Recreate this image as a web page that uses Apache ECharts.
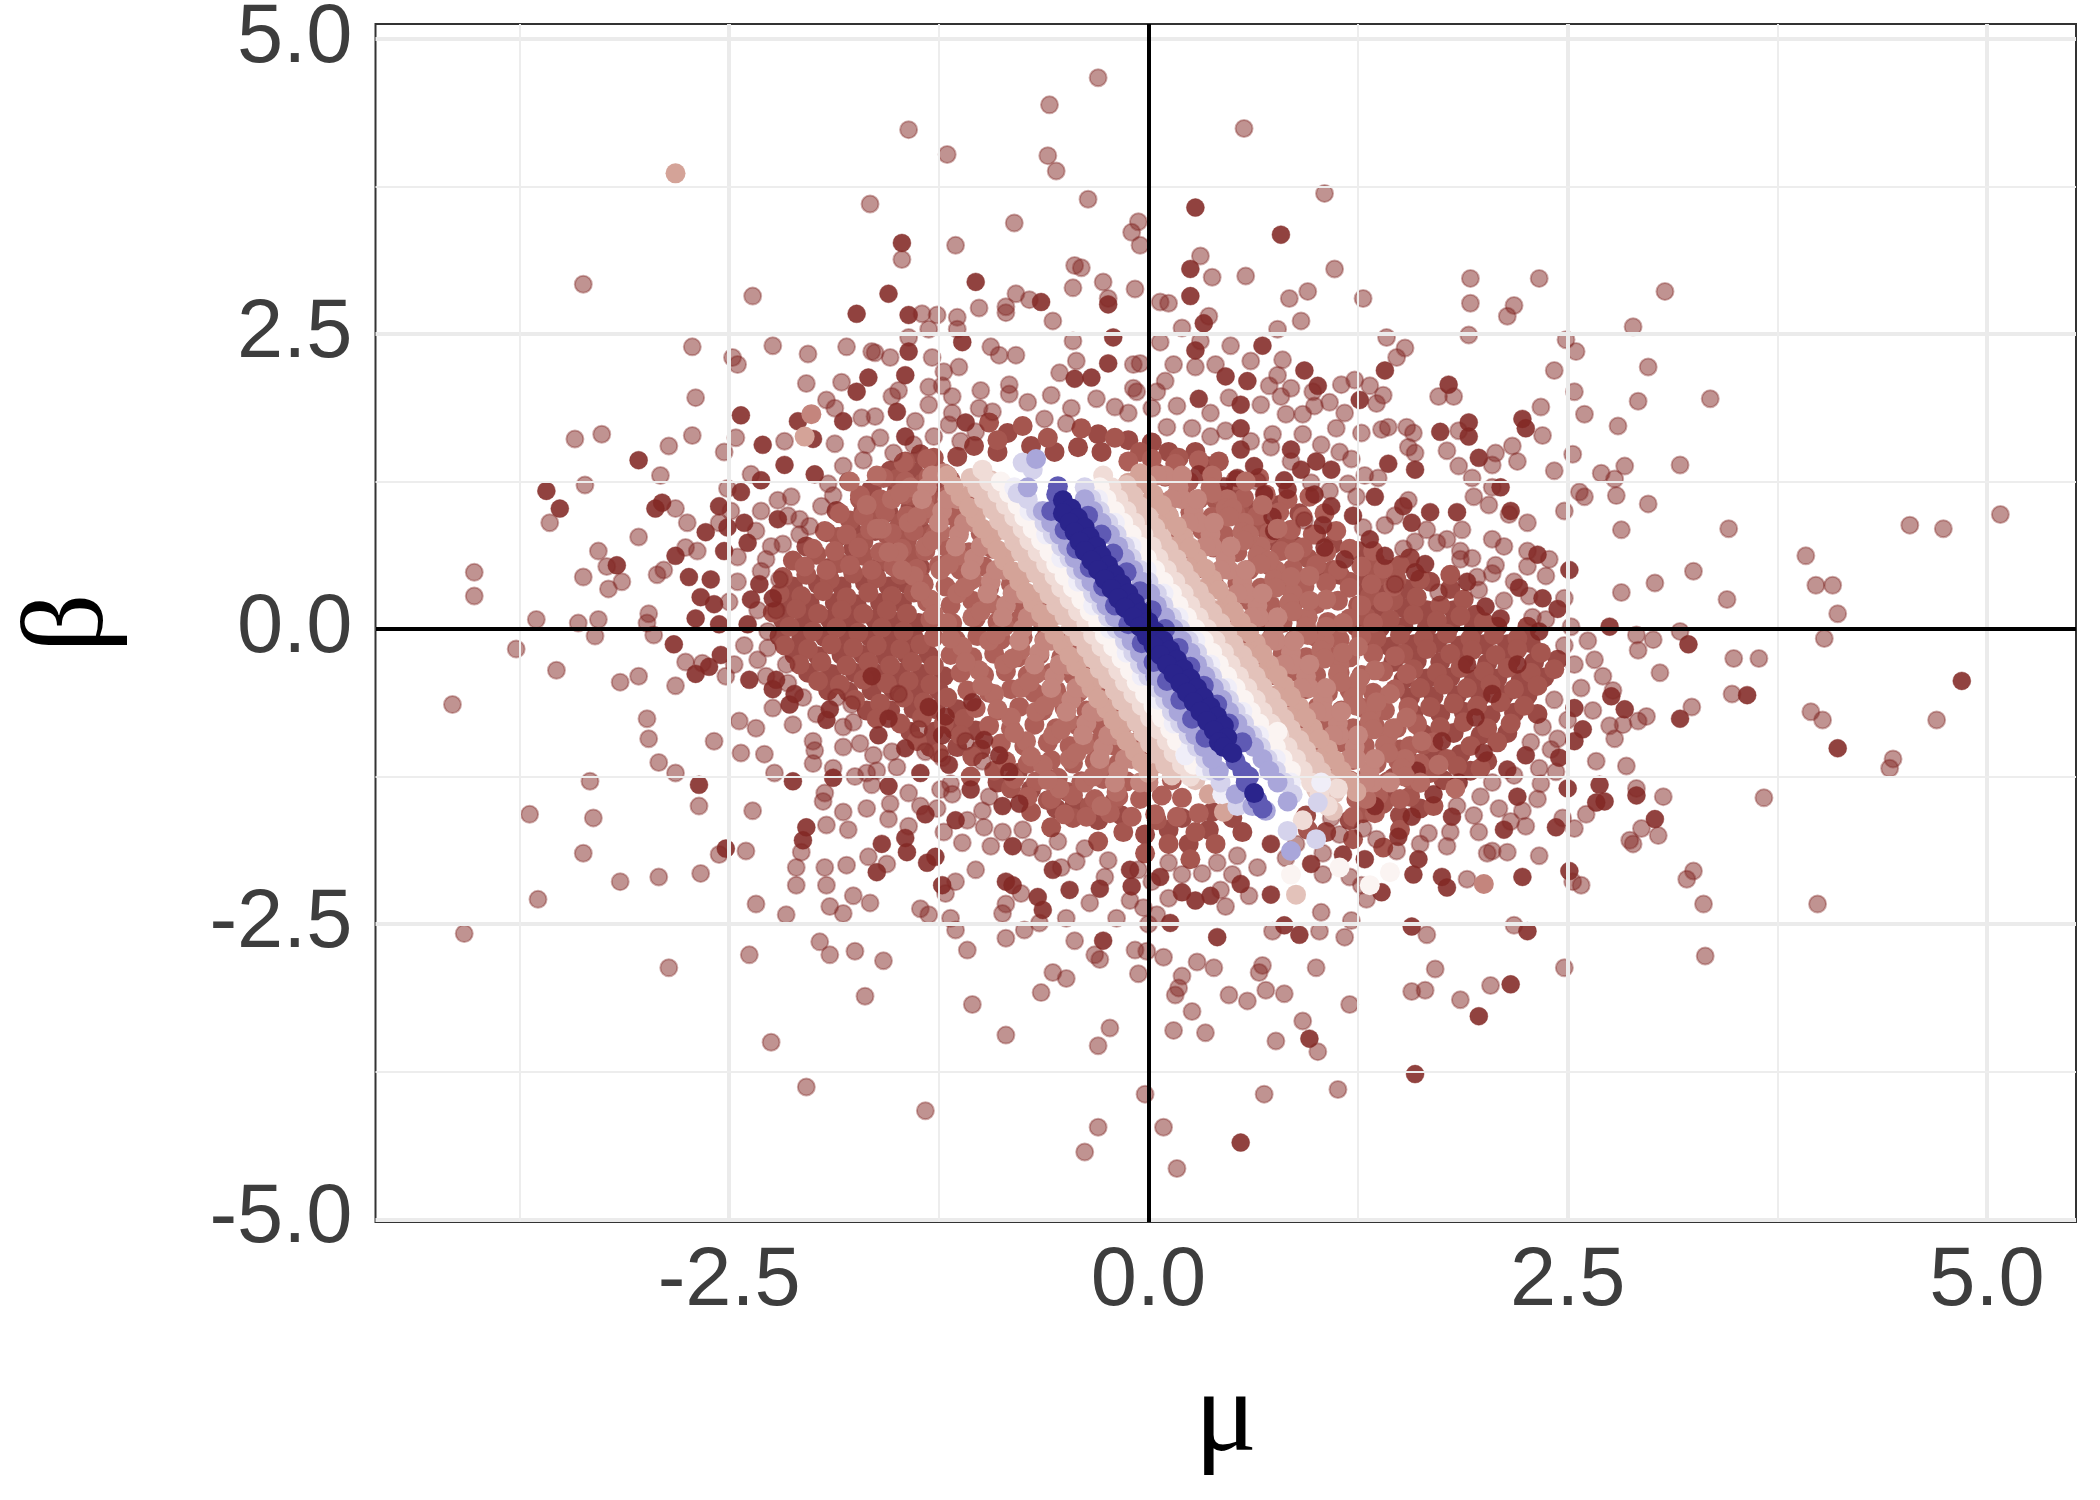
<!DOCTYPE html>
<html>
<head>
<meta charset="utf-8">
<title>mu beta scatter</title>
<script src="https://cdn.jsdelivr.net/npm/echarts@6/dist/echarts.min.js"></script>
<style>
  html, body { margin: 0; background: #fff; }
  #chart { width: 2100px; height: 1500px; }
</style>
</head>
<body>
<div id="chart"></div>
<script>
// tick labels and grid positions
const tickValues = [-5, -2.5, 0, 2.5, 5]
const xTickValues = [-2.5, 0, 2.5, 5]
const xMinorGrid = [-3.75, -1.25, 1.25, 3.75]
const yMinorGrid = [-3.75, -1.25, 1.25, 3.75]

// points: [mu, beta]
const faintPts = [[-1.43,4.23],[-1.2,4.02],[-1.66,3.6],[-1.47,3.13],[-1.15,3.25],[-.8,3.44],[-3.37,2.92],[-2.36,2.82],[-1.35,2.67],[-1.26,2.66],[-1.14,2.64],[-1.14,2.54],[-1.01,2.72],[-.85,2.73],[-.85,2.68],[-.79,2.84],[-.71,2.79],[-1.31,2.54],[-1.43,2.47],[-2.72,2.39],[-2.24,2.4],[-2.48,2.3],[-2.45,2.24],[-2.03,2.33],[-1.8,2.39],[-1.65,2.35],[-1.63,2.34],[-1.54,2.3],[-1.29,2.3],[-.94,2.39],[-.89,2.32],[-.79,2.32],[-2.04,2.08],[-1.83,2.09],[-1.13,2.22],[-1.22,2.18],[-1.49,2.02],[-1.31,2.05],[-1.23,2.06],[-1.53,1.97],[-1.17,1.97],[-1,2.02],[-.83,2.07],[-.83,1.99],[-2.7,1.96],[-1.92,1.94],[-1.31,1.9],[-1.71,1.79],[-1.63,1.8],[-1.87,1.87],[-1.39,1.76],[-1.01,1.87],[-1.17,1.83],[-1.19,1.73],[-3.42,1.61],[-3.26,1.65],[-2.72,1.64],[-2.86,1.55],[-2.46,1.62],[-2.53,1.5],[-2.17,1.59],[-1.87,1.57],[-1.68,1.56],[-2.91,1.3],[-3.36,1.22],[-3.57,.9],[-2.82,1.02],[-2.75,.9],[-3.04,.78],[-3.28,.66],[-3.23,.53],[-3.37,.44],[-3.14,.4],[-3.22,.34],[-4.02,.48],[-4.02,.28],[-3.65,.08],[-3.4,.05],[-3.28,.08],[-2.98,.13],[-2.99,.05],[-2.93,.46],[-2.89,.5],[-2.76,.69],[-2.69,.66],[-2.5,.23],[-2.33,.16],[-2.22,.16],[-2.45,.4],[-2.2,.42],[-2.25,.7],[-2.45,.61],[-2.28,.59],[-2.49,1],[-2.56,.9],[-2.51,1.19],[-2.37,1.31],[-2.08,.93],[-2.08,.8],[-2.21,1.09],[-2.13,1.12],[-1.95,1.04],[-1.91,1.23],
[-4.15,-.64],[-3.77,-.17],[-3.53,-.35],[-3.3,-.06],[-3.15,-.45],[-3.04,-.4],[-2.82,-.48],[-2.95,-.05],[-2.76,-.28],[-2.66,-.29],[-2.52,-.4],[-2.47,-.3],[-2.33,-.26],[-2.27,-.02],[-2.99,-.76],[-2.98,-.93],[-2.44,-.78],[-2.34,-.84],[-2.59,-.95],[-2.43,-1.05],[-2.29,-1.06],[-2.92,-1.13],[-2.82,-1.22],[-3.33,-1.29],[-2.68,-1.5],[-2.36,-1.54],[-2.23,-1.22],[-3.69,-1.57],[-3.31,-1.6],[-3.37,-1.9],[-2.56,-1.91],[-2.4,-1.88],[-2.92,-2.1],[-3.15,-2.14],[-2.67,-2.07],[-3.64,-2.29],[-4.08,-2.58],[-2.86,-2.87],[-2.38,-2.76],[-2.34,-2.33],[-2.16,-2.42],[-2.25,-3.5],[-2.04,-3.88],[-1.33,-4.08],[-1.69,-3.11],[-1.05,-3.18],[-.85,-3.44],[-.64,-3.08],[-1.96,-2.65],[-1.9,-2.76],[-1.75,-2.73],[-1.58,-2.81],[-1.08,-2.72],[-.85,-2.62],[-.74,-2.55],[-1.15,-2.55],[-1.18,-2.45],[-1.36,-2.37],[-1.31,-2.42],[-1.9,-2.35],[-1.82,-2.41],[-1.76,-2.26],[-1.66,-2.32],[-2.1,-2.17],[-2.1,-2.02],[-1.92,-2.17],[-1.93,-2.02],[-1.8,-2],[-1.67,-1.93],[-1.56,-1.99],[-1.21,-2.24],[-1.15,-2.14],[-1.03,-2.04],[-1.11,-1.81],[-2.07,-1.89],[-1.92,-1.66],[-1.79,-1.7],[-1.55,-1.61],[-1.43,-1.67],[-1.94,-1.46],[-1.93,-1.39],[-1.75,-1.25],[-1.68,-1.22],[-1.65,-1.32],[-1.43,-1.39],[-1.18,-1.31],[-1.17,-1.4],[-.99,-1.54],[-.95,-1.42],[-.87,-1.72],[-.75,-1.7],[-.71,-1.85],[-.63,-1.9],[-.76,-2.24],[-.85,-2.33],[-.87,-2.41],[-.65,-2.49],[-2.12,-.81],[-1.82,-.83],[-2,-.95],[-1.99,-1.03],[-2,-1.14],[-1.82,-1],[-1.72,-.97],[-1.64,-1.07],[-1.53,-1.04],[-1.33,-1.04],[-1.23,-1.09],[-1.77,-.64],[-1.37,-.85],[-.99,-1.12],[-1.09,-.95],[-1.49,-.55],
[-.3,4.67],[-.59,4.44],[.57,4.24],[-.6,4.01],[-.55,3.88],[1.05,3.69],[-.36,3.64],[-.06,3.45],[-.1,3.36],[-.05,3.25],[.31,3.16],[.38,2.98],[.58,2.99],[1.11,3.05],[-.44,3.08],[-.4,3.06],[-.27,2.94],[-.45,2.89],[-.08,2.88],[-.24,2.8],[.07,2.77],[.12,2.76],[.84,2.8],[.95,2.86],[1.28,2.8],[1.92,2.97],[2.33,2.97],[3.08,2.86],[1.92,2.76],[2.18,2.74],[2.14,2.65],[.91,2.61],[1.91,2.49],[2.89,2.56],[2.49,2.45],[2.55,2.35],[2.98,2.22],[2.42,2.19],[2.54,2.01],[2.92,1.93],[3.35,1.95],[2.6,1.82],[2.34,1.88],[2.8,1.72],[2.35,1.64],[1.85,1.68],[1.73,1.97],[1.82,1.97],[1.48,2.3],[1.53,2.38],[1.42,2.47],[.77,2.54],[.2,2.55],[.36,2.65],[.31,2.44],[.07,2.43],[.49,2.4],[-.45,2.44],[-.57,2.61],[-.43,2.27],[-.09,2.24],[-.05,2.25],[-.53,2.17],[.15,2.24],[.28,2.22],[.4,2.24],[.61,2.27],[.8,2.28],[.77,2.15],[.72,2.06],[.85,2.04],[.1,2.1],[-.09,2.04],[-.07,2.01],[.05,2.01],[.48,1.96],[.67,1.9],[.79,1.97],[.98,2.01],[1.15,2.07],[1.23,2.11],[1.32,2.06],[1.4,1.98],[1.36,1.91],[1.08,1.92],[.99,1.89],[1.17,1.83],[.82,1.82],[.92,1.82],[.37,1.83],[.74,1.65],[.92,1.65],[1.12,1.7],[1.27,1.66],[1.39,1.69],[1.43,1.71],[1.54,1.71],[1.58,1.66],[.73,1.54],[1.03,1.56],[1.55,1.54],[1.59,1.49],[1.78,1.51],[2.07,1.49],[2.17,1.55],[2.2,1.42],[2.53,1.48],[2.84,1.38],[3.17,1.39],[2.42,1.34],[2.7,1.32],[2.78,1.27],[2.05,1.39],[1.85,1.38],[1.93,1.28],[2.05,1.2],[1.94,1.12],[2.03,1.05],[2.57,1.16],[2.6,1.12],[2.79,1.13],[2.98,1.06],[2.48,1],[2.15,.97],[2.26,.9],[2.82,.84],[3.46,.85],[4.54,.88],[4.74,.85],[5.08,.97],[3.92,.62],[3.98,.37],[4.08,.37],[4.11,.13],[3.25,.49],[3.02,.39],[2.82,.31],[3.45,.25],[2.39,.59],[2.37,.45],[2.26,.66],[2.26,.53],[2.05,.76],[2.12,.7],[2.07,.54],[2.05,.47],[1.87,.84],[1.86,.66],[1.86,.59],[1.72,.73],[1.59,.74],[1.41,.88],[1.55,1.09],[1.29,1.3],[1.37,1.28],[1.19,1.23],[1.21,1.44],[.65,1.25],[.37,1.63],[.11,1.71],[.26,1.7],[.93,.92],[1.47,.38],[1.73,.31],[1.97,.33],[2.48,.26],[2.12,.24],[2.27,.28],[2.29,.1],
[4.7,-.77],[4.44,-1.1],[4.42,-1.18],[3.95,-.7],[4.02,-.77],[4.03,-.08],[3.48,-.55],[3.49,-.25],[3.64,-.25],[3.67,-1.43],[3.99,-2.33],[3.32,-2.77],[3.31,-2.33],[3.25,-2.05],[3.21,-2.12],[3.04,-1.75],[2.94,-1.69],[2.89,-1.82],[2.87,-1.79],[3.07,-1.42],[2.91,-1.35],[2.85,-1.16],[3.24,-.66],[3.05,-.37],[3.17,-.02],[3.01,-.09],[2.92,-.18],[2.91,-.05],[2.97,-.74],[2.92,-.78],[2.83,-.81],[2.77,-.52],[2.75,-.82],[2.78,-.93],[2.65,-.69],[2.44,-.93],[2.67,-1.12],[2.33,-1.18],[2.43,-1.21],[2.61,-1.57],[2.47,-1.6],[2.54,-1.69],[2.32,-1.44],[2.34,-1.31],[2.23,-1.54],[2.25,-1.67],[2.16,-1.63],[2.33,-1.92],[2.53,-2.14],[2.58,-2.17],[2.14,-1.89],[2.05,-1.88],[2.02,-1.9],[1.9,-2.12],[1.78,-1.84],[1.67,-1.73],[1.28,-1.69],[1.3,-2.29],[1.27,-2.17],[1.66,-2.59],[2.18,-2.51],[2.48,-2.87],[2.04,-3.02],[1.86,-3.14],[1.71,-2.88],[1.57,-3.07],[1.65,-3.06],[1.13,-3.9],[1.2,-3.18],[.92,-3.32],[1.01,-3.58],[.76,-3.49],[.81,-3.09],[.7,-3.06],[.59,-3.15],[.48,-3.1],[1,-2.87],[1.03,-2.4],[1.02,-2.56],[1.17,-2.61],[1.21,-2.47],[.74,-2.56],[.68,-2.85],[.66,-2.91],[.39,-2.87],[.29,-2.82],[.2,-2.94],[.18,-3.04],[.16,-3.1],[.09,-2.78],[-.01,-2.73],[-.08,-2.72],[-.06,-2.92],[-.29,-2.8],[-.32,-2.76],[-.44,-2.64],[-.49,-2.96],[-.57,-2.91],[.26,-3.24],[.15,-3.4],[.34,-3.42],[-.23,-3.38],[-.3,-3.53],[-.02,-3.94],[.69,-3.94],[-.3,-4.22],[.09,-4.22],[-.38,-4.43],[.17,-4.57],[0,-2.5],[-.19,-2.45],[-.03,-2.36],[.05,-2.42],[-.49,-2.45],[-.35,-2.32],[-.11,-2.3],[-.43,-1.97],[.46,-2.35],[.6,-2.26],[.32,-2.07],[.41,-1.98],[.43,-2.21],[.65,-2.02],[.53,-1.92],
[-2.31,1],[-2.34,.83],[-2.18,.72],[-2.31,.49],[-2.15,.96],[-2.02,.87],[-1.88,1.13],[-1.82,1.38],[-1.7,1.43],[-1.6,1.62],[-1.52,1.49],[-1.4,1.56],[-1.28,1.63],[-1.12,1.59],[-1.03,1.67],[-.93,1.84],[-.72,1.92],[-.58,1.98],[-.46,1.87],[-.31,1.95],[-.2,1.88],[-.62,1.78],[-.49,1.74],[-.12,1.83],[.02,1.87],[.17,1.89],[.46,1.68],[.61,1.59],[.85,1.42],[1.14,1.5],[.97,1.24],[1.24,1.12],[1.08,1.17],[1.47,.96],[1.66,.84],[1.78,.76],[1.52,.68],[1.28,.86],[1.93,.6],[1.96,.44],[2.18,.4],[2.37,.08],[2.52,.02],[2.62,-.1],[2.48,-.14],[2.66,-.26],[2.54,-.3],[2.71,-.4],[2.58,-.5],[2.42,-.6],[2.5,-.77],[2.35,-.83],[2.28,-.96],[2.4,-1.02],[2.18,-1.24],[2.05,-1.3],[1.98,-1.42],[2.09,-1.52],[1.94,-1.58],[1.84,-1.5],[1.97,-1.72],[1.8,-1.72],[1.62,-1.82],[1.48,-1.88],[1.36,-1.78],[1.14,-1.74],[1.09,-1.6],[-2.27,-.16],[-2.41,-.14],[-2.16,-.3],[-2.28,-.4],[-2.15,-.46],[-2.06,-.58],[-1.98,-.72],[-1.86,-.58],[-2.24,-.67],[-1.76,-.79],[-1.88,-1.18],[-1.62,-1.2],[-1.5,-1.17],[-1.54,-1.48],[-1.68,-1.52],[-1.82,-1.55],[-1.36,-1.5],[-1.24,-1.36],[-1.26,-1.52],[-1.08,-1.62],[-1.22,-1.72],[-.98,-1.68],[-.94,-1.84],[-.54,-1.8],[-.38,-1.86],[-.52,-2.02],[-.24,-1.96],[-.26,-2.1],[-.06,-2.04],[.12,-1.98],[.02,-2.14],[.2,-2.08],[.12,-2.28],[.5,-2.08],[.82,-1.94],[.88,-1.82],[1.04,-1.9],[1.04,-2.08],[1.2,-2.1]]

const darkPts = [[-1.47,3.27],[-1.03,2.94],[-1.55,2.84],[-1.74,2.67],[-1.43,2.66],[-.64,2.77],[-1.11,2.43],[-1.43,2.35],[-1.67,2.13],[-1.74,2.01],[-1.45,2.15],[-2.43,1.81],[-1.5,1.84],[-1.09,1.75],[-1.82,1.76],[-2.3,1.56],[-2.09,1.76],[-2,1.61],[-1.45,1.63],[-3.04,1.43],[-3.59,1.17],[-3.51,1.02],[-2.9,1.07],[-2.94,1.02],[-3.17,.54],[-2.82,.62],[-2.64,.82],[-2.74,.44],[-2.61,.42],[-2.67,.27],[-2.59,.21],[-2.37,.25],[-2.24,.26],[-2.7,.09],[-2.56,.04],[-2.39,.04],[-2.32,.38],[-2.53,.66],[-2.39,.73],[-2.56,1.04],[-2.51,.86],[-2.41,.9],[-2.43,1.16],[-2.31,1.26],[-2.17,1.39],[-2.21,.93],[-1.99,1.31],[-1.79,1.25],
[-2.83,-.13],[-2.7,-.38],[-2.62,-.32],[-2.55,-.22],[-2.38,-.43],[-2.22,-.43],[-2.24,-.51],[-2.68,-1.32],[-2.12,-1.29],[-2.52,-1.86],[-1.62,-2.06],[-1.44,-1.89],[-1.45,-1.77],[-1.59,-1.82],[-1.32,-1.98],[-1.27,-1.93],[-1.23,-2.17],[-2.04,-1.68],[-2.06,-1.79],[-1.33,-1.57],[-1.15,-1.62],[-1.88,-1.26],[-1.55,-1.33],[-1.36,-1.22],[-1.19,-1.15],[-1.06,-1.36],[-.87,-1.5],[-.77,-1.48],[-.81,-1.84],[-.85,-2.14],[-.81,-2.17],[-.66,-2.27],[-.63,-2.38],[-2.14,-.64],[-2.11,-.55],[-1.9,-.68],[-1.92,-.77],[-1.61,-.9],[-1.45,-1.01],[-1.55,-.76],[-1.31,-.66],[-1.21,-.74],[-1.23,-.9],[-.98,-.94],[-.89,-1.07],[-.83,-1.21],[-1.05,-.62],[-1.65,-.4],
[.28,3.57],[.79,3.34],[.25,3.05],[-.24,2.75],[.25,2.82],[.33,2.59],[.28,2.36],[.68,2.4],[-.21,2.47],[-.24,2.25],[-.44,2.12],[-.34,2.13],[.46,2.14],[.59,2.1],[.93,2.19],[1.01,2.06],[.3,1.95],[.55,1.9],[1.26,1.94],[.55,1.7],[2.23,1.78],[2.25,1.7],[1.91,1.75],[1.91,1.63],[1.74,1.67],[1.79,2.07],[1.41,2.19],[.85,1.52],[1.97,1.45],[2.1,1.2],[2.16,1],[2.51,.5],[2.32,.63],[1.84,.99],[1.68,.99],[1.52,1.04],[1.57,.9],[1.35,1.12],[1.43,1.4],[1.59,1.35],[1.09,1.35],[1,1.42],[.91,1.35],[.81,1.26],[.63,1.38],[.53,1.28],[.3,1.31],[.55,1.52],[.99,1.14],[.83,1.18],[.69,1.14],[.45,1.21],[1.09,1.04],[1.22,.96],[.74,.95],[1.04,.88],[.75,.83],[1.32,.76],[1.05,.69],[1.17,.59],[1.41,.62],[1.65,.55],[1.59,.48],[1.9,.4],[2.21,.35],[2.35,.26],[2.44,.17],[2.01,.19],[2.1,.09],[2.75,.02],[2.33,-.02],
[4.85,-.44],[4.11,-1.01],[3.57,-.56],[3.02,-1.61],[2.91,-1.41],[3.17,-.76],[3.22,-.13],[2.84,-.68],[2.76,-.57],[2.54,-.67],[2.59,-.85],[2.54,-.95],[2.45,-1.09],[2.69,-1.32],[2.5,-1.35],[2.72,-1.46],[2.67,-1.47],[2.43,-1.68],[2.2,-1.42],[2.12,-1.7],[2.14,-1.19],[2.25,-1.07],[2.51,-2.05],[2.23,-2.1],[1.75,-2.1],[1.78,-2.19],[1.61,-1.95],[1.58,-2.08],[1.49,-1.76],[1.81,-1.59],[1.57,-1.59],[1.29,-1.95],[1.16,-1.91],[1.39,-2.23],[.97,-1.99],[1.57,-2.52],[2.26,-2.56],[2.16,-3.01],[1.97,-3.28],[1.59,-3.77],[.96,-3.47],[.81,-2.51],[.9,-2.59],[.41,-2.61],[-.27,-2.64],[.55,-4.35],[.13,-2.49],[-.47,-2.21],[-.29,-2.2],[-.1,-2.18],[-.57,-2.04],[.07,-2.1],[-.11,-2.04],[.2,-2.23],[.28,-2.3],[.37,-2.26],[.55,-2.16],[.73,-2.25],[.73,-1.82],[1.95,-.75],[1.75,-.95],[1.6,-1.2],[2,-1.05],[1.85,-1.3],[1.35,-1.5],[1.7,-1.4],[2.05,-.55],[2.2,-.3],[1.9,-.3]]

// under layers of the dense cloud
const backPts = [[-2.04,.7],[-1.9,.52],[-1.76,.68],[-1.63,.51],[-1.5,.7],[-1.36,.52],[-2.12,.36],[-1.97,.38],[-1.83,.36],[-1.69,.39],[-1.55,.36],[-1.44,.38],[-2.16,.22],[-2.02,.22],[-1.87,.22],[-1.74,.21],[-1.6,.22],[-1.47,.22],[-2.18,.08],[-2.05,.07],[-1.9,.08],[-1.77,.06],[-1.63,.08],[-1.5,.06],[-1.37,.05],[-2.2,-.06],[-2.07,-.08],[-1.93,-.07],[-1.79,-.09],[-1.66,-.07],[-1.53,-.09],[-1.4,-.07],[-2.11,-.22],[-1.97,-.23],[-1.83,-.22],[-1.7,-.22],[-1.57,-.23],[-1.44,-.22],[-1.31,-.22],[-2.03,-.37],[-1.89,-.38],[-1.75,-.37],[-1.61,-.38],[-1.48,-.37],[-1.35,-.38],[-1.22,-.4],[-1.91,-.52],[-1.79,-.53],[-1.65,-.52],[-1.52,-.52],[-1.38,-.53],[-1.25,-.52],[-1.68,-.69],[-1.54,-.69],[-1.4,-.68],[-1.27,-.68],[-1.14,-.68],[-1.42,-.87],[-1.28,-.87],[-1.16,-.85],[-1.03,-.86],[-1.3,-1],[-1.14,-1],[-1,-1.02],[-.9,-1.3],[-.78,-1.22],[-.7,-1.36],[-.62,-1.25],[-.55,-1.52],[-.44,-1.48],[-.3,-1.62],[-.16,-1.58],[-.02,-1.74],[.12,-1.7],[.24,-1.82],[.36,-1.7],[.2,-1.6],
[-1.92,.82],[-1.77,.84],[-1.63,.83],[-1.5,.84],[-1.36,.84],[-1.86,1],[-1.7,1],[-1.55,.99],[-1.42,1.02],[-1.65,1.19],[-1.5,1.17],[-1.36,1.18],[-1.24,1.2],[-1.54,1.34],[-1.4,1.33],[-1.26,1.35],[-1.36,1.48],[-1.14,1.46],[-1.04,1.55],[-.9,1.5],[-.84,1.66],[-.7,1.55],[-.56,1.5],[-.42,1.54],[-.3,1.65],[-.28,1.5],[-.12,1.6],[.02,1.58],[.12,1.5],[.28,1.5],[.35,1.38],[.5,1.14],[.62,1],[.78,1.05],[.9,.98],[1,.8],[.88,.7],[.72,.75],[1.1,.72],[1.25,.66],[1.14,.46],[1.02,.5],[1.3,.48],[1.44,.5],[1.56,.6],[1.42,.34],[1.28,.36],[1.54,.34],[1.68,.4],[1.8,.34],[1.36,.18],[1.52,.18],[1.66,.16],[1.82,.16],[1.95,.12],[1.24,.02],[1.38,.01],[1.52,.02],[1.66,.01],[1.8,.03],[1.94,.01],[2.08,.02],[2.26,.02],[1.3,-.14],[1.44,-.15],[1.58,-.13],[1.72,-.12],[1.86,-.14],[2,-.13],[2.14,-.13],[2.28,-.12],[1.46,-.28],[1.6,-.27],[1.74,-.28],[1.88,-.26],[2.02,-.29],[2.16,-.26],[2.3,-.28],[2.44,-.26],[1.52,-.43],[1.66,-.42],[1.8,-.41],[1.94,-.43],[2.08,-.42],[2.22,-.43],[2.36,-.41],[1.56,-.58],[1.7,-.57],[1.84,-.56],[1.98,-.57],[2.12,-.56],[2.26,-.56],[1.58,-.72],[1.74,-.72],[1.88,-.7],[2.04,-.73],[2.18,-.71],[2.32,-.72],[1.64,-.89],[1.82,-.88],[1.98,-.9],[2.14,-.88],[1.54,-1.09],[1.7,-1.06],[1.86,-1.06],[2.02,-1.12],[1.46,-1.26],[1.62,-1.3],[1.76,-1.28],[1.92,-1.2],[1.44,-1.42],[1.62,-1.52],[1.5,-1.58],[1.2,-1.62],[1.06,-1.72],[.94,-1.58],[.56,-1.72],[.5,-1.6],[.38,-1.55]]

const brownPts = [[-2.12,.58],[-1.98,.63],[-1.84,.56],[-1.7,.62],[-1.55,.57],[-1.42,.64],[-2.18,.44],[-2.04,.46],[-1.9,.42],[-1.76,.47],[-1.62,.43],[-1.48,.46],[-1.36,.42],[-2.2,.3],[-2.07,.28],[-1.94,.32],[-1.8,.27],[-1.67,.31],[-1.53,.28],[-1.4,.31],[-2.24,.14],[-2.1,.17],[-1.97,.13],[-1.83,.16],[-1.7,.13],[-1.56,.16],[-1.44,.13],[-2.14,.02],[-2,-.02],[-1.86,.01],[-1.73,-.03],[-1.59,.01],[-1.46,-.02],[-2.17,-.14],[-2.03,-.17],[-1.89,-.13],[-1.76,-.16],[-1.62,-.14],[-1.48,-.17],[-1.36,-.13],[-2.08,-.3],[-1.95,-.28],[-1.8,-.31],[-1.67,-.28],[-1.54,-.31],[-1.41,-.28],[-1.28,-.31],[-1.97,-.44],[-1.84,-.47],[-1.7,-.43],[-1.56,-.46],[-1.43,-.44],[-1.3,-.47],[-1.75,-.6],[-1.6,-.63],[-1.46,-.58],[-1.34,-.62],[-1.2,-.58],[-1.62,-.76],[-1.48,-.8],[-1.35,-.75],[-1.22,-.8],[-1.1,-.76],[-1.38,-.95],[-1.12,-.9],[-1.25,-1.05],[-1.05,-1.08],[-.92,-1.2],[-1.06,-1.25],[-1.85,.78],[-1.7,.74],[-1.56,.8],[-1.44,.75],[-1.3,.8],[-1.78,.92],[-1.62,.96],[-1.48,.9],[-1.35,.96],[-1.72,1.1],[-1.56,1.08],[-1.42,1.13],[-1.28,1.08],[-1.5,1.27],[-1.34,1.24],[-1.2,1.3],[-1.45,1.42],[-1.28,1.45],
[1.35,.58],[1.5,.54],[1.62,.42],[1.48,.42],[1.36,.44],[1.8,.46],[1.74,.2],[1.6,.27],[1.46,.24],[1.32,.28],[1.88,.25],[2,.06],[1.86,.11],[1.72,.07],[1.58,.12],[1.44,.08],[1.3,.1],[2.2,-.08],[2.06,-.05],[1.92,-.08],[1.78,-.04],[1.64,-.08],[1.5,-.05],[1.36,-.08],[2.34,-.2],[2.2,-.17],[2.07,-.22],[1.93,-.18],[1.8,-.21],[1.66,-.17],[1.52,-.21],[2.42,-.34],[2.28,-.37],[2.14,-.33],[2,-.36],[1.86,-.33],[1.72,-.37],[1.58,-.34],[2.32,-.48],[2.18,-.51],[2.04,-.47],[1.9,-.5],[1.76,-.47],[1.62,-.5],[2.24,-.65],[2.1,-.62],[1.96,-.65],[1.82,-.63],[1.68,-.66],[2.16,-.8],[2.02,-.84],[1.88,-.79],[1.74,-.83],[1.6,-.8],[2.08,-.96],[1.92,-.99],[1.78,-1.1],[1.64,-.98],[1.5,-1.02],[1.98,-1.18],[1.84,-1.16],[1.68,-1.22],[1.54,-1.18],[1.42,-1.3],[1.7,-1.5],[1.56,-1.42],[1.4,-1.48],[1.28,-1.56],[1.5,-1.7],[1.4,-1.85],[1.22,-1.78],[.95,-1.7],[.9,-.98],[1.1,.5],[.95,.6],[1.2,.4],[1.25,.2],[.82,.72],[.68,.86],[.55,.98],[.4,1.1],[.2,1.2],[.05,1.32],[.18,1.45],[-.05,1.5],[-.2,1.62],[-.4,1.7],[-.6,1.62],[-.75,1.72],[-.9,1.6],[-.95,1.75],[.42,1.42],[-.82,-1.35],[-.7,-1.55],[-.58,-1.68],[-.45,-1.6],[-.3,-1.8],[-.15,-1.72],[-.02,-1.9],[.12,-1.82],[.25,-1.95],[-.6,-1.45],[-.48,-1.38],[-.35,-1.5],[-.2,-1.45],[.28,-1.72],[.4,-1.82],[.05,-1.62]]

const midPts = [[-1.32,1.44],[-1.46,1.41],[-.12,1.42],[.02,1.44],[.16,1.4],[.3,1.43],[-1.58,1.28],[-1.45,1.25],[-1.31,1.29],[-1.18,1.26],[-.03,1.26],[.1,1.29],[.24,1.25],[.38,1.28],[.52,1.26],[.66,1.28],[-1.72,1.13],[-1.6,1.1],[-1.46,1.14],[-1.33,1.11],[-1.2,1.13],[-1.08,1.1],[.04,1.11],[.17,1.14],[.3,1.1],[.43,1.13],[.57,1.11],[.7,1.14],[.83,1.1],[.96,1.12],[-1.84,.98],[-1.7,.96],[-1.57,.99],[-1.44,.96],[-1.3,.98],[-1.17,.96],[-1.04,.99],[.12,.96],[.25,.99],[.38,.95],[.52,.98],[.65,.96],[.78,.99],[.92,.95],[1.05,.98],[-1.93,.83],[-1.8,.8],[-1.66,.84],[-1.53,.81],[-1.4,.83],[-1.27,.8],[-1.13,.84],[-1,.81],[.19,.81],[.32,.84],[.45,.8],[.58,.83],[.72,.81],[.85,.84],[.98,.8],[1.12,.83],[-2,.68],[-1.87,.66],[-1.73,.69],[-1.6,.65],[-1.47,.68],[-1.33,.66],[-1.2,.69],[-1.07,.65],[-.93,.68],[.26,.66],[.39,.69],[.53,.65],[.66,.68],[.79,.66],[.92,.69],[1.06,.65],[1.2,.68],[1.34,.66],[-2.05,.53],[-1.92,.5],[-1.78,.54],[-1.65,.5],[-1.52,.53],[-1.38,.51],[-1.25,.54],[-1.12,.5],[-.98,.53],[-.86,.5],[.33,.51],[.46,.54],[.6,.5],[.73,.53],[.86,.51],[1,.54],[1.13,.5],[1.27,.53],[1.4,.51],[-1.34,.38],[-1.21,.36],[-1.08,.39],[-.95,.35],[-.82,.38],[.4,.36],[.53,.39],[.67,.35],[.8,.38],[.93,.36],[1.06,.39],[1.2,.35],[1.33,.38],[1.46,.36],[-1.32,.23],[-1.18,.2],[-1.05,.24],[-.92,.21],[-.78,.23],[-.66,.2],[.47,.21],[.6,.24],[.73,.2],[.87,.23],[1,.21],[1.13,.24],[1.27,.2],[1.4,.23],[-1.3,.08],[-1.17,.05],[-1.03,.09],[-.9,.06],[-.77,.08],[-.63,.05],[.54,.06],[.67,.09],[.8,.05],[.94,.08],[1.07,.06],[1.2,.09],[1.34,.05],[-1.28,-.07],[-1.15,-.09],[-1.02,-.06],[-.88,-.09],[-.75,-.07],[-.62,-.09],[-.5,-.06],[.6,-.09],[.74,-.06],[.87,-.09],[1,-.07],[1.14,-.09],[1.27,-.06],[-1.18,-.22],[-1.05,-.24],[-.92,-.21],[-.78,-.24],[-.65,-.22],[-.52,-.24],[-.42,-.21],[.67,-.24],[.8,-.21],[.94,-.24],[1.07,-.22],[1.2,-.24],[1.34,-.21],[1.47,-.23],[-1.12,-.37],[-.98,-.39],[-.85,-.36],[-.72,-.39],[-.58,-.37],[-.45,-.39],[-.33,-.36],[.74,-.39],[.87,-.36],[1,-.39],[1.14,-.37],[1.27,-.39],[1.4,-.36],[1.54,-.38],[-1.08,-.52],[-.95,-.54],[-.82,-.51],[-.68,-.54],[-.55,-.52],[-.42,-.54],[-.28,-.51],[.81,-.54],[.94,-.51],[1.07,-.54],[1.2,-.52],[1.34,-.54],[1.47,-.51],[-1.03,-.67],[-.9,-.69],[-.77,-.66],[-.63,-.69],[-.5,-.67],[-.37,-.69],[-.23,-.66],[-.12,-.68],[.88,-.69],[1.01,-.66],[1.15,-.69],[1.28,-.67],[1.41,-.69],[1.55,-.66],[-.95,-.82],[-.82,-.84],[-.68,-.81],[-.55,-.84],[-.42,-.82],[-.28,-.84],[-.15,-.81],[-.04,-.83],[.95,-.84],[1.08,-.81],[1.22,-.84],[1.35,-.82],[1.48,-.84],[1.6,-.81],[-.88,-.97],[-.74,-.99],[-.6,-.96],[-.47,-.99],[-.34,-.97],[-.2,-.99],[-.07,-.96],[.04,-.98],[1.02,-.99],[1.15,-.96],[1.29,-.99],[1.42,-.97],[1.56,-.99],[1.7,-.96],[-.85,-1.12],[-.72,-1.14],[-.58,-1.11],[-.45,-1.14],[-.32,-1.12],[-.18,-1.14],[-.05,-1.11],[.08,-1.13],[1.09,-1.14],[1.22,-1.11],[1.36,-1.14],[1.49,-1.12],[1.62,-1.14],[-.8,-1.27],[-.67,-1.29],[-.54,-1.26],[-.4,-1.29],[-.27,-1.27],[-.13,-1.29],[0,-1.26],[.14,-1.28],[1.16,-1.29],[1.3,-1.26],[1.43,-1.29],[1.56,-1.27],[-.72,-1.42],[-.58,-1.44],[-.45,-1.41],[-.32,-1.44],[-.18,-1.42],[-.05,-1.44],[.08,-1.41],[.2,-1.43],[1.24,-1.44],[1.37,-1.41],[1.5,-1.44],[-.5,-1.57],[-.37,-1.59],[-.23,-1.56],[-.1,-1.59],[.04,-1.57],[.17,-1.59],[.3,-1.56],[1.22,-1.59],[1.35,-1.56]]

// cloud, far from the line to right on it
const tone1Pts = [[-1.78,1.25],[-1.68,1.05],[-1.59,.85],[-1.49,.65],[-1.4,.45],[-1.3,.25],[-1.2,.05],[-1.11,-.15],[-1.01,-.35],[-.92,-.55],[-.82,-.75],[-.73,-.95],[-.63,-1.15],[-.53,-1.35],[.58,1.25],[.68,1.05],[.77,.85],[.87,.65],[.96,.45],[1.06,.25],[1.16,.05],[1.25,-.15],[1.35,-.35],[1.44,-.55],[1.54,-.75],[1.63,-.95],[1.73,-1.15],[1.83,-1.35],[-1.62,1.3],[-1.53,1.1],[-1.43,.9],[-1.33,.7],[-1.24,.5],[-1.14,.3],[-1.05,.1],[-.95,-.1],[-.86,-.3],[-.76,-.5],[-.67,-.7],[-.57,-.9],[-.47,-1.1],[-.38,-1.3],[-.28,-1.5],[-1.42,1.2],[-1.33,1.02],[-1.24,.82],[-1.14,.62],[-1.05,.42],[-.95,.22],[-.86,.02],[-.76,-.18],[-.67,-.38],[-.57,-.58],[-.48,-.78],[-.38,-.98],[-.29,-1.18],[-.19,-1.38],
[-1.62,.85],[-1.55,.65],[-1.47,.5],[-1.36,.32],[-1.28,.12],[-1.18,-.08],[-1.09,-.28],[-.99,-.48],[-.9,-.68],[-.8,-.88],[-.7,-1.08],[-.6,-1.28],[.38,1.3],[.47,1.1],[.57,.9],[.67,.7],[.76,.5],[.86,.3],[.95,.1],[1.05,-.1],[1.14,-.3],[1.24,-.5],[1.33,-.7],[1.43,-.9],[1.53,-1.1],[1.62,-1.3],[.37,1.2],[.46,1.02],[.56,.82],[.65,.62],[.75,.42],[.84,.22],[.94,.02],[1.03,-.18],[1.13,-.38],[1.22,-.58],[1.32,-.78],[1.41,-.98],[1.51,-1.18],[.5,1.02],[.6,.8],[.72,.58],[.85,.44],[.96,.24],[1.06,.02],[1.16,-.2],[1.26,-.42],[1.36,-.62],[1.46,-.84],[1.2,-1.28],[1.3,-1.44],
[-1.48,1.15],[-1.38,.95],[-1.29,.75],[-1.19,.55],[-1.1,.35],[-1,.15],[-.91,-.05],[-.81,-.25],[-.71,-.45],[-.62,-.65],[-.52,-.85],[-.43,-1.05],[-.33,-1.25],[.38,1.15],[.48,.95],[.57,.75],[.67,.55],[.76,.35],[.86,.15],[.95,-.05],[1.05,-.25],[1.15,-.45],[1.24,-.65],[1.34,-.85],[1.43,-1.05],[1.53,-1.25]]

const tone2Pts = [[-1.32,1.2],[-1.23,1],[-1.13,.8],[-1.04,.6],[-.94,.4],[-.85,.2],[-.75,0],[-.65,-.2],[-.56,-.4],[-.46,-.6],[-.37,-.8],[-.27,-1],[-.18,-1.2],[-1.22,1.32],[-1.14,1.1],[-1.04,.9],[-.94,.72],[-.86,.5],[-.76,.3],[-.66,.1],[-.58,-.1],[-.48,-.3],[-.38,-.5],[-.3,-.7],[-.2,-.9],[-.1,-1.1],[0,-1.3],[-2.01,1.82],
[.18,1.2],[.27,1],[.37,.8],[.46,.6],[.56,.4],[.65,.2],[.75,0],[.85,-.2],[.94,-.4],[1.04,-.6],[1.13,-.8],[1.23,-1],[1.32,-1.2],[.1,1.3],[.2,1.1],[.3,.9],[.38,.7],[.48,.5],[.58,.3],[.66,.1],[.76,-.1],[.86,-.3],[.96,-.5],[1.05,-.7],[1.14,-.9],[1.24,-1.1],[1.34,-1.3],[2,-2.16],
[-1.29,1.3],[-1.2,1.1],[-1.1,.9],[-1,.7],[-.91,.5],[-.81,.3],[-.72,.1],[-.62,-.1],[-.53,-.3],[-.43,-.5],[-.34,-.7],[-.24,-.9],[-.14,-1.1],[-.05,-1.3],[.05,1.3],[.14,1.1],[.24,.9],[.34,.7],[.43,.5],[.53,.3],[.62,.1],[.72,-.1],[.81,-.3],[.91,-.5],[1,-.7],[1.1,-.9],[1.2,-1.1],[1.29,-1.3],[-1.35,1.1],[-1.25,.9],[-1.15,.7],[-1.06,.5],[-.96,.3],[-.87,.1],[-.77,-.1],[-.68,-.3],[-.58,-.5],[-.49,-.7],[-.39,-.9],[-.29,-1.1],[-.2,-1.3],[.2,1.3],[.29,1.1],[.39,.9],[.49,.7],[.58,.5],[.68,.3],[.77,.1],[.87,-.1],[.96,-.3],[1.06,-.5],[1.15,-.7],[1.25,-.9],[1.35,-1.1],[1.44,-1.3]]

const tone3Pts = [[-1.2,1.3],[-1.12,1.12],[-1.03,.94],[-.94,.76],[-.86,.58],[-.77,.4],[-.69,.22],[-.6,.04],[-.51,-.14],[-.43,-.32],[-.34,-.5],[-.25,-.68],[-.17,-.86],[-.08,-1.04],[0,-1.22],[-1.04,1.2],[-.96,1.04],[-.88,.84],[-.8,.66],[-.7,.48],[-.62,.3],[-.54,.12],[-.44,-.06],[-.36,-.24],[-.28,-.42],[-.18,-.6],[-.1,-.78],[0,-.96],[.08,-1.14],[-2.82,3.86],[-2.05,1.63],
[-.05,1.32],[.03,1.14],[.12,.96],[.21,.78],[.29,.6],[.38,.42],[.47,.24],[.55,.06],[.64,-.12],[.72,-.3],[.81,-.48],[.9,-.66],[.98,-.84],[1.07,-1.02],[1.15,-1.2],[1.24,-1.38],[-.12,1.24],[-.02,1.06],[.06,.88],[.14,.7],[.24,.52],[.32,.34],[.4,.16],[.5,-.02],[.58,-.2],[.66,-.38],[.76,-.56],[.84,-.74],[.92,-.92],[1.02,-1.1],[1.1,-1.28],[.45,-1.55],[.36,-1.4],
[-1.16,1.21],[-1.07,1.03],[-.99,.85],[-.9,.67],[-.81,.49],[-.73,.31],[-.64,.13],[-.56,-.05],[-.47,-.23],[-.38,-.41],[-.3,-.59],[-.21,-.77],[-.13,-.95],[-.04,-1.13],[-.01,1.23],[.08,1.05],[.17,.87],[.25,.69],[.34,.51],[.42,.33],[.51,.15],[.6,-.03],[.68,-.21],[.77,-.39],[.85,-.57],[.94,-.75],[1.02,-.93],[1.11,-1.11],[1.2,-1.29]]

const tone4Pts = [[-1.06,1.28],[-.98,1.1],[-.89,.92],[-.8,.74],[-.72,.56],[-.63,.38],[-.55,.2],[-.46,.02],[-.37,-.16],[-.29,-.34],[-.2,-.52],[-.12,-.7],[-.03,-.88],[.05,-1.06],[.14,-1.24],[-.94,1.26],[-.86,1.06],[-.78,.88],[-.68,.7],[-.6,.52],[-.52,.34],[-.42,.16],[-.34,-.02],[-.26,-.2],[-.16,-.38],[-.08,-.56],[.02,-.74],[.1,-.92],[.18,-1.1],[.28,-1.28],
[-.13,1.22],[-.05,1.04],[.04,.86],[.12,.68],[.21,.5],[.3,.32],[.38,.14],[.47,-.04],[.56,-.22],[.64,-.4],[.73,-.58],[.81,-.76],[.9,-.94],[.99,-1.12],[1.07,-1.3],[-.2,1.16],[-.12,.98],[-.04,.8],[.06,.62],[.14,.44],[.22,.26],[.32,.08],[.4,-.1],[.48,-.28],[.58,-.46],[.66,-.64],[.74,-.82],[.84,-1],[.92,-1.18],[1,-1.36],[1.1,-1.54],[.88,-2.25],
[-1.02,1.19],[-.93,1.01],[-.84,.83],[-.76,.65],[-.67,.47],[-.59,.29],[-.5,.11],[-.41,-.07],[-.33,-.25],[-.24,-.43],[-.16,-.61],[-.07,-.79],[.01,-.97],[.1,-1.15],[-.09,1.13],[0,.95],[.08,.77],[.17,.59],[.25,.41],[.34,.23],[.43,.05],[.51,-.13],[.6,-.31],[.68,-.49],[.77,-.67],[.85,-.85],[.94,-1.03],[1.03,-1.21],[1.11,-1.39]]

const tone5Pts = [[-.99,1.35],[-.9,1.15],[-.8,.95],[-.71,.75],[-.61,.55],[-.52,.35],[-.42,.15],[-.33,-.05],[-.23,-.25],[-.14,-.45],[-.04,-.65],[.06,-.85],[.15,-1.05],[.25,-1.25],[-.27,1.3],[-.18,1.1],[-.08,.9],[.02,.7],[.11,.5],[.21,.3],[.3,.1],[.4,-.1],[.49,-.3],[.59,-.5],[.68,-.7],[.78,-.9],[.88,-1.1],[.97,-1.3],[1.07,-1.5],[.92,-1.62],[1.13,-1.35],
[-.95,1.25],[-.85,1.05],[-.75,.85],[-.66,.65],[-.56,.45],[-.47,.25],[-.37,.05],[-.28,-.15],[-.18,-.35],[-.09,-.55],[.01,-.75],[.11,-.95],[.2,-1.15],[-.22,1.2],[-.13,1],[-.03,.8],[.06,.6],[.16,.4],[.25,.2],[.35,0],[.45,-.2],[.54,-.4],[.64,-.6],[.73,-.8],[.83,-1],[.92,-1.2],[1.02,-1.4]]

const tone6Pts = [[-.88,1.25],[-.78,1.05],[-.69,.85],[-.59,.65],[-.5,.45],[-.4,.25],[-.3,.05],[-.21,-.15],[-.11,-.35],[-.02,-.55],[.08,-.75],[.17,-.95],[.27,-1.15],[-.29,1.2],[-.2,1],[-.1,.8],[-.01,.6],[.09,.4],[.18,.2],[.28,0],[.38,-.2],[.47,-.4],[.57,-.6],[.66,-.8],[.76,-1],[.85,-1.2],[.77,-.87],[.85,-2.08],[1.14,-2.02],[1.32,-2.17],[1.44,-2.06],
[-.83,1.15],[-.74,.95],[-.64,.75],[-.55,.55],[-.45,.35],[-.35,.15],[-.26,-.05],[-.16,-.25],[-.07,-.45],[.03,-.65],[.13,-.85],[.22,-1.05],[-.25,1.1],[-.15,.9],[-.05,.7],[.04,.5],[.14,.3],[.23,.1],[.33,-.1],[.42,-.3],[.52,-.5],[.61,-.7],[.71,-.9],[.8,-1.1]]

const tone7Pts = [[-.8,1.2],[-.71,1],[-.61,.8],[-.52,.6],[-.42,.4],[-.33,.2],[-.23,0],[-.13,-.2],[-.04,-.4],[.06,-.6],[.15,-.8],[.25,-1],[.34,-1.2],[.44,-1.4],[-.3,1.1],[-.2,.9],[-.1,.7],[-.01,.5],[.09,.3],[.18,.1],[.28,-.1],[.37,-.3],[.47,-.5],[.56,-.7],[.66,-.9],[.76,-1.1],[.85,-1.3],[1.03,-1.3],[.22,-1.07]]

const tone8Pts = [[-.75,1.41],[-.69,1.35],[-.78,1.15],[-.72,1.1],[-.62,.9],[-.52,.7],[-.43,.5],[-.33,.3],[-.24,.1],[-.14,-.1],[-.05,-.3],[.05,-.5],[.14,-.7],[.24,-.9],[.34,-1.1],[.43,-1.3],[.53,-1.5],[-.38,1.2],[-.29,1],[-.19,.8],[-.1,.6],[0,.4],[.09,.2],[.19,0],[.29,-.2],[.38,-.4],[.48,-.6],[.57,-.8],[.67,-1],[.76,-1.2],[.86,-1.4],[1.01,-1.47],[1,-1.78],[.83,-1.71],
[-.67,1],[-.57,.8],[-.47,.6],[-.38,.4],[-.28,.2],[-.19,0],[-.09,-.2],[0,-.4],[.1,-.6],[.19,-.8],[.29,-1],[.38,-1.2],[-.34,1.1],[-.24,.9],[-.14,.7],[-.05,.5],[.05,.3],[.14,.1],[.24,-.1],[.33,-.3],[.43,-.5],[.52,-.7],[.62,-.9],[.71,-1.1],[.81,-1.3]]

const tone9Pts = [[-.67,1.44],[-.72,1.2],[-.63,1],[-.53,.8],[-.44,.6],[-.34,.4],[-.25,.2],[-.15,0],[-.05,-.2],[.04,-.4],[.14,-.6],[.23,-.8],[.33,-1],[.42,-1.2],[.52,-1.4],[-.38,1.1],[-.28,.9],[-.18,.7],[-.09,.5],[.01,.3],[.1,.1],[.2,-.1],[.29,-.3],[.39,-.5],[.48,-.7],[.58,-.9],[.68,-1.1],[.77,-1.3],[.83,-1.46],[.85,-1.88],[.7,-1.54],[.62,-1.5],
[-.58,.9],[-.48,.7],[-.39,.5],[-.29,.3],[-.2,.1],[-.1,-.1],[-.01,-.3],[.09,-.5],[.18,-.7],[.28,-.9],[.38,-1.1],[-.33,1],[-.23,.8],[-.14,.6],[-.04,.4],[.05,.2],[.15,0],[.25,-.2],[.34,-.4],[.44,-.6],[.53,-.8],[.63,-1],[.72,-1.2]]

const tone10Pts = [[-.58,1],[-.5,.84],[-.43,.68],[-.35,.52],[-.27,.36],[-.2,.2],[-.12,.04],[-.04,-.12],[.03,-.28],[.11,-.44],[.19,-.6],[.26,-.76],[.34,-.92],[-.36,.96],[-.28,.8],[-.21,.64],[-.13,.48],[-.05,.32],[.02,.16],[.1,0],[.18,-.16],[.25,-.32],[.33,-.48],[.41,-.64],[.48,-.8],[.56,-.96],[-.54,1.21],[-.55,1.14],[.52,-1.12],[.56,-1.2],[.6,-1.25],[.58,-1.3],[.68,-1.52],[.65,-1.45]]

const navyPts = [[-.51,1.09],[-.46,1.02],[-.51,.98],[-.42,.94],[-.47,.9],[-.38,.86],[-.44,.82],[-.35,.78],[-.41,.74],[-.31,.7],[-.38,.66],[-.28,.62],[-.34,.58],[-.24,.54],[-.3,.5],[-.2,.46],[-.26,.42],[-.16,.38],[-.22,.34],[-.12,.3],[-.18,.26],[-.08,.22],[-.14,.18],[-.04,.14],[-.09,.1],[0,.06],[-.05,.02],[.04,-.02],[-.01,-.06],[.09,-.1],[.03,-.14],[.13,-.18],[.07,-.22],[.17,-.26],[.11,-.3],[.21,-.34],[.15,-.38],[.25,-.42],[.19,-.46],[.29,-.5],[.23,-.54],[.33,-.58],[.27,-.62],[.37,-.66],[.31,-.7],[.41,-.74],[.35,-.78],[.45,-.82],[.39,-.86],[.47,-.92],[.42,-.96],[.45,-1],[.5,-1.05],[.63,-1.39]]

const underLayers = [
  { data: backPts, color: '#9a4a45' },
  { data: brownPts, color: '#a5564f' },
  { data: midPts, color: '#ad5f58' }
]
const layers = [
  { data: tone1Pts, color: '#b56c64' },
  { data: tone2Pts, color: '#c4857d' },
  { data: tone3Pts, color: '#d4a398' },
  { data: tone4Pts, color: '#e3c2ba' },
  { data: tone5Pts, color: '#f0dcd7' },
  { data: tone6Pts, color: '#fbf4f2' },
  { data: tone7Pts, color: '#f0eef8' },
  { data: tone8Pts, color: '#d5d3ec' },
  { data: tone9Pts, color: '#a9a6da' },
  { data: tone10Pts, color: '#5f5ab4' },
  { data: navyPts, color: '#2a248c' }
]

function gridLines(axis, values, width) {
  return {
    type: 'scatter',
    data: [],
    z: 1,
    silent: true,
    markLine: {
      silent: true,
      animation: false,
      symbol: 'none',
      label: { show: false },
      lineStyle: { color: width > 3 ? '#ebebeb' : '#ededed', width: width, type: 'solid' },
      data: values.map(v => ({ [axis]: v }))
    }
  }
}

function zeroLines() {
  return {
    type: 'scatter',
    data: [],
    z: 9,
    silent: true,
    markLine: {
      silent: true,
      animation: false,
      symbol: 'none',
      label: { show: false },
      lineStyle: { color: '#000', width: 4, type: 'solid' },
      data: [{ xAxis: 0 }, { yAxis: 0 }]
    }
  }
}

function cloudSeries(l, z) {
  return {
    type: 'scatter',
    data: l.data,
    z: z,
    symbolSize: 20,
    itemStyle: { color: l.color, opacity: 1 }
  }
}

const series = [
  gridLines('xAxis', xTickValues, 4),
  gridLines('yAxis', tickValues, 4),
  gridLines('xAxis', xMinorGrid, 2),
  gridLines('yAxis', yMinorGrid, 2)
]
underLayers.forEach((l, i) => series.push(cloudSeries(l, 2 + i * 0.01)))
series.push({
  type: 'scatter',
  data: faintPts,
  z: 2.5,
  symbolSize: 17,
  itemStyle: { color: 'rgba(130,40,36,0.5)', borderColor: 'rgba(130,40,36,0.38)', borderWidth: 2, opacity: 1 }
})
series.push({
  type: 'scatter',
  data: darkPts,
  z: 3,
  symbolSize: 18,
  itemStyle: { color: 'rgba(130,40,36,0.88)', borderColor: 'rgba(130,40,36,0.4)', borderWidth: 1, opacity: 1 }
})
layers.forEach((l, i) => series.push(cloudSeries(l, 4 + i * 0.01)))
series.push(zeroLines())

const labelStyle = { fontFamily: 'Liberation Sans', fontSize: 83, color: '#3d3d3d' }

const chart = echarts.init(document.getElementById('chart'), null, { renderer: 'canvas' })
chart.setOption({
  animation: false,
  backgroundColor: '#fff',
  grid: { left: 375.5, top: 24, width: 1700.5, height: 1198, outerBoundsMode: 'none', show: true, borderColor: '#333', borderWidth: 2, backgroundColor: 'transparent' },
  xAxis: {
    type: 'value',
    min: -4.609,
    max: 5.531,
    name: 'μ',
    nameLocation: 'middle',
    nameGap: 140,
    nameTextStyle: { fontFamily: 'Liberation Serif', fontSize: 116, color: '#000' },
    axisLine: { show: false },
    splitLine: { show: false },
    axisTick: { show: true, customValues: xTickValues, length: 13, lineStyle: { color: '#333', width: 4 } },
    axisLabel: { ...labelStyle, customValues: xTickValues, margin: 19, formatter: v => v.toFixed(1) }
  },
  yAxis: {
    type: 'value',
    min: -5.023,
    max: 5.125,
    name: 'β',
    nameLocation: 'middle',
    nameGap: 246,
    nameRotate: 90,
    nameTextStyle: { fontFamily: 'Liberation Serif', fontSize: 116, color: '#000' },
    axisLine: { show: false },
    splitLine: { show: false },
    axisTick: { show: true, customValues: tickValues, length: 13, lineStyle: { color: '#333', width: 4 } },
    axisLabel: { ...labelStyle, customValues: tickValues, margin: 23, padding: [8, 0, 0, 0], formatter: v => v.toFixed(1) }
  },
  series: series
})
</script>
</body>
</html>
